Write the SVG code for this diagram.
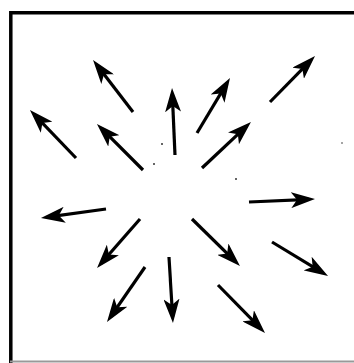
<svg xmlns="http://www.w3.org/2000/svg" width="354" height="363" viewBox="0 0 354 363">
<style>
.frame{stroke:#000;stroke-width:3.5;fill:none}
.arrow{stroke:#000;stroke-width:3.2;fill:none;marker-end:url(#ah)}
.speck{fill:#333}
</style>
<defs>
<marker id="ah" viewBox="0 0 24 16" markerWidth="24" markerHeight="16" markerUnits="userSpaceOnUse" refX="18" refY="8" orient="auto">
<path d="M0,0 L24,8 L0,16 L6,8 Z" fill="#000"/>
</marker>
</defs>
<rect width="354" height="363" fill="#fff"/>
<g id="frame">
<path class="frame" d="M10.8,363 V12.8 H354"/>
<line x1="10" y1="361.5" x2="354" y2="361.5" stroke="#999" stroke-width="2"/>
</g>
<g id="connectors">
<line class="arrow" x1="133" y1="112" x2="96.7" y2="64.8"/>
<line class="arrow" x1="76" y1="158" x2="34.1" y2="114.3"/>
<line class="arrow" x1="143" y1="170" x2="101.2" y2="128.2"/>
<line class="arrow" x1="175" y1="155" x2="172.3" y2="94"/>
<line class="arrow" x1="197" y1="133" x2="226.9" y2="83.1"/>
<line class="arrow" x1="270" y1="102" x2="310.8" y2="60.3"/>
<line class="arrow" x1="202" y1="168" x2="246.6" y2="126.1"/>
<line class="arrow" x1="106" y1="209" x2="46.9" y2="217.2"/>
<line class="arrow" x1="249" y1="202" x2="309" y2="199.3"/>
<line class="arrow" x1="140" y1="219" x2="101" y2="263.5"/>
<line class="arrow" x1="145" y1="267" x2="110.4" y2="317.1"/>
<line class="arrow" x1="169" y1="257" x2="172.6" y2="317"/>
<line class="arrow" x1="192" y1="219" x2="235.7" y2="261.8"/>
<line class="arrow" x1="218" y1="285" x2="260.8" y2="328.7"/>
<line class="arrow" x1="272" y1="242" x2="322.9" y2="272.9"/>
</g>
<g id="specks">
<circle class="speck" cx="162" cy="144" r="1"/>
<circle class="speck" cx="154" cy="164" r="1"/>
<circle class="speck" cx="236" cy="179" r="1"/>
<circle class="speck" cx="342" cy="143" r="0.8"/>
</g>
</svg>
